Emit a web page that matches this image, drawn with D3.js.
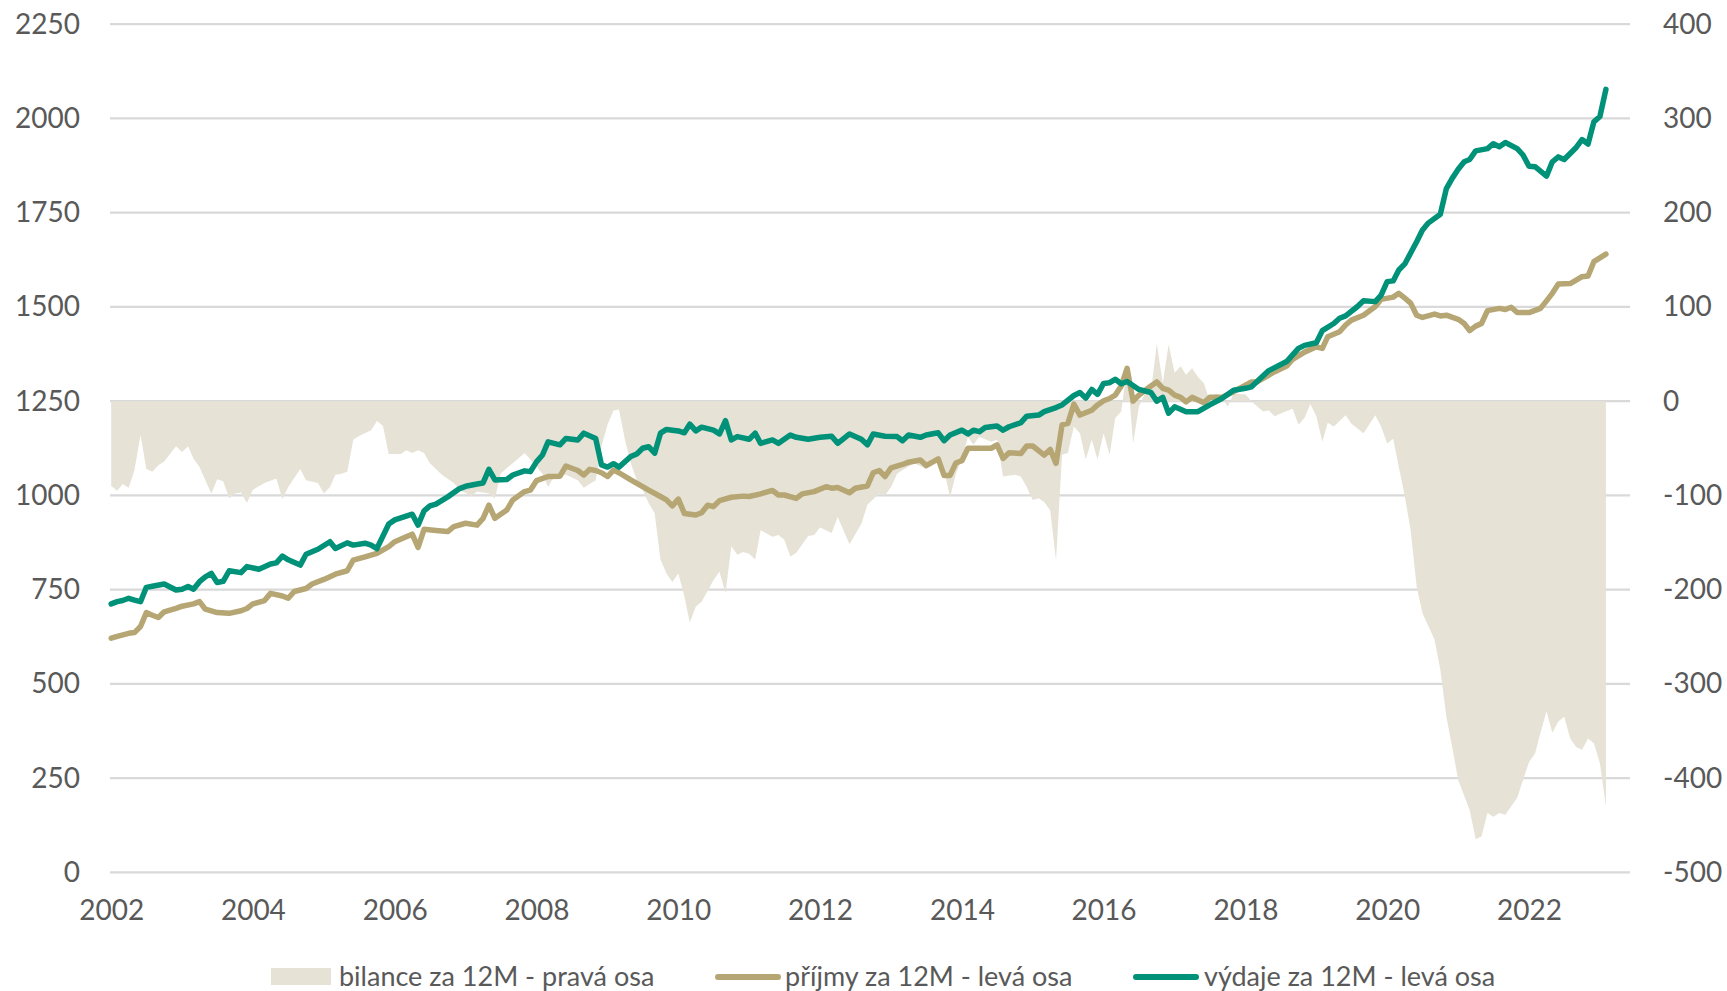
<!DOCTYPE html>
<html>
<head>
<meta charset="utf-8">
<script src="https://cdn.jsdelivr.net/npm/d3@7"></script>
<style>
  body { margin: 0; background: #fff; }
  svg text { font-family: Lato, "Open Sans", sans-serif; fill: #595959; }
</style>
</head>
<body>
<div id="chart"></div>
<script>
"use strict";

// bilance za 12M (right axis), [month, value]
var bilance = [
  ["2002-01",-90],["2002-02",-95],["2002-03",-88],["2002-04",-92],["2002-05",-73],["2002-06",-36],
  ["2002-07",-72],["2002-08",-75],["2002-09",-68],["2002-10",-64],["2002-12",-48],["2003-01",-54],
  ["2003-02",-48],["2003-03",-61],["2003-04",-70],["2003-05",-84],["2003-06",-98],["2003-07",-83],
  ["2003-08",-85],["2003-09",-103],["2003-10",-98],["2003-11",-97],["2003-12",-108],["2004-01",-94],
  ["2004-03",-87],["2004-05",-82],["2004-06",-104],["2004-07",-91],["2004-09",-72],["2004-10",-84],
  ["2004-12",-87],["2005-01",-98],["2005-02",-91],["2005-03",-78],["2005-04",-77],["2005-05",-75],
  ["2005-06",-41],["2005-07",-37],["2005-09",-31],["2005-10",-21],["2005-11",-26],["2005-12",-56],
  ["2006-02",-56],["2006-03",-52],["2006-04",-55],["2006-05",-52],["2006-06",-55],["2006-07",-66],
  ["2006-09",-78],["2006-11",-87],["2006-12",-94],["2007-02",-101],["2007-03",-96],["2007-05",-98],
  ["2007-06",-103],["2007-07",-77],["2007-08",-71],["2007-09",-66],["2007-11",-55],["2007-12",-62],
  ["2008-02",-77],["2008-03",-91],["2008-04",-80],["2008-06",-78],["2008-08",-84],["2008-09",-92],
  ["2008-11",-84],["2008-12",-48],["2009-01",-25],["2009-02",-10],["2009-03",-9],["2009-04",-41],
  ["2009-05",-66],["2009-06",-84],["2009-07",-94],["2009-08",-108],["2009-09",-119],["2009-10",-168],
  ["2009-11",-183],["2009-12",-192],["2010-01",-183],["2010-02",-207],["2010-03",-235],["2010-04",-218],
  ["2010-05",-213],["2010-07",-190],["2010-08",-181],["2010-09",-204],["2010-10",-154],["2010-11",-163],
  ["2010-12",-160],["2011-01",-162],["2011-02",-168],["2011-03",-137],["2011-05",-144],["2011-06",-142],
  ["2011-07",-147],["2011-08",-165],["2011-09",-161],["2011-11",-143],["2011-12",-142],["2012-01",-134],
  ["2012-03",-140],["2012-04",-123],["2012-06",-152],["2012-08",-130],["2012-09",-110],["2012-11",-98],
  ["2012-12",-100],["2013-01",-91],["2013-02",-77],["2013-03",-73],["2013-05",-66],["2013-07",-72],
  ["2013-08",-61],["2013-10",-73],["2013-11",-102],["2013-12",-77],["2014-01",-61],["2014-02",-38],
  ["2014-03",-46],["2014-04",-38],["2014-06",-43],["2014-07",-41],["2014-08",-80],["2014-10",-78],
  ["2014-11",-80],["2014-12",-91],["2015-01",-105],["2015-02",-103],["2015-03",-107],["2015-04",-116],
  ["2015-05",-169],["2015-06",-57],["2015-07",-55],["2015-08",-27],["2015-09",-34],["2015-10",-62],
  ["2015-11",-41],["2015-12",-62],["2016-01",-34],["2016-02",-57],["2016-03",-18],["2016-04",-11],
  ["2016-05",37],["2016-06",-45],["2016-07",-6],["2016-08",8],["2016-09",10],["2016-10",61],
  ["2016-11",19],["2016-12",60],["2017-01",30],["2017-02",37],["2017-03",28],["2017-04",35],
  ["2017-05",26],["2017-06",19],["2017-07",0],["2017-08",8],["2017-09",5],["2017-10",-6],
  ["2017-11",8],["2018-01",7],["2018-02",0],["2018-04",-11],["2018-05",-10],["2018-06",-16],
  ["2018-07",-13],["2018-09",-8],["2018-10",-25],["2018-11",-18],["2018-12",-3],["2019-01",-16],
  ["2019-02",-43],["2019-03",-23],["2019-04",-27],["2019-06",-15],["2019-07",-24],["2019-09",-34],
  ["2019-11",-15],["2019-12",-27],["2020-01",-45],["2020-02",-40],["2020-03",-70],["2020-04",-101],
  ["2020-05",-137],["2020-06",-197],["2020-07",-225],["2020-09",-253],["2020-10",-285],["2020-11",-335],
  ["2020-12",-367],["2021-01",-402],["2021-03",-434],["2021-04",-465],["2021-05",-462],["2021-06",-437],
  ["2021-07",-441],["2021-08",-437],["2021-09",-439],["2021-10",-430],["2021-11",-421],["2021-12",-402],
  ["2022-01",-383],["2022-02",-374],["2022-03",-352],["2022-04",-329],["2022-05",-352],["2022-06",-340],
  ["2022-07",-335],["2022-08",-358],["2022-09",-367],["2022-10",-370],["2022-11",-358],["2022-12",-363],
  ["2023-01",-384],["2023-02",-430]
];

// příjmy za 12M (left axis)
var prijmy = [
  ["2002-01",621],["2002-02",626],["2002-04",634],["2002-05",636],["2002-06",652],["2002-07",689],
  ["2002-08",682],["2002-09",676],["2002-10",691],["2002-12",700],["2003-01",706],["2003-03",712],
  ["2003-04",718],["2003-05",698],["2003-07",689],["2003-09",687],["2003-11",694],["2003-12",700],
  ["2004-01",712],["2004-03",721],["2004-04",740],["2004-06",733],["2004-07",727],["2004-08",745],
  ["2004-10",753],["2004-11",765],["2005-01",777],["2005-03",791],["2005-05",800],["2005-06",828],
  ["2005-08",837],["2005-10",846],["2005-12",864],["2006-01",877],["2006-03",890],["2006-04",897],
  ["2006-05",862],["2006-06",910],["2006-08",907],["2006-10",904],["2006-11",917],["2007-01",926],
  ["2007-03",921],["2007-04",939],["2007-05",974],["2007-06",939],["2007-08",961],["2007-09",988],
  ["2007-11",1010],["2007-12",1014],["2008-01",1039],["2008-03",1050],["2008-05",1051],["2008-06",1078],
  ["2008-08",1066],["2008-09",1054],["2008-10",1069],["2008-11",1066],["2008-12",1060],["2009-01",1050],
  ["2009-02",1067],["2009-03",1060],["2009-05",1041],["2009-07",1023],["2009-08",1014],["2009-10",997],
  ["2009-11",988],["2009-12",972],["2010-01",990],["2010-02",952],["2010-04",948],["2010-05",954],
  ["2010-06",974],["2010-07",970],["2010-08",986],["2010-10",995],["2010-12",998],["2011-01",997],
  ["2011-03",1004],["2011-05",1013],["2011-06",1001],["2011-07",1001],["2011-09",992],["2011-10",1004],
  ["2011-12",1010],["2012-02",1023],["2012-03",1019],["2012-04",1021],["2012-06",1007],["2012-07",1019],
  ["2012-09",1025],["2012-10",1060],["2012-11",1066],["2012-12",1050],["2013-01",1073],["2013-03",1082],
  ["2013-04",1088],["2013-06",1094],["2013-07",1079],["2013-09",1097],["2013-10",1053],["2013-11",1053],
  ["2013-12",1086],["2014-01",1092],["2014-02",1125],["2014-04",1125],["2014-06",1125],["2014-07",1134],
  ["2014-08",1098],["2014-09",1113],["2014-11",1111],["2014-12",1131],["2015-01",1131],["2015-03",1107],
  ["2015-04",1122],["2015-05",1085],["2015-06",1187],["2015-07",1191],["2015-08",1242],["2015-09",1213],
  ["2015-11",1226],["2015-12",1240],["2016-01",1251],["2016-02",1257],["2016-03",1266],["2016-04",1290],
  ["2016-05",1337],["2016-06",1250],["2016-07",1266],["2016-09",1290],["2016-10",1301],["2016-11",1284],
  ["2016-12",1279],["2017-01",1266],["2017-02",1260],["2017-03",1248],["2017-04",1260],["2017-06",1246],
  ["2017-07",1260],["2017-09",1260],["2017-11",1275],["2018-02",1301],["2018-03",1301],["2018-06",1328],
  ["2018-08",1343],["2018-09",1361],["2018-11",1380],["2019-01",1394],["2019-02",1390],["2019-03",1421],
  ["2019-05",1434],["2019-06",1452],["2019-07",1465],["2019-09",1478],["2019-11",1501],["2019-12",1520],
  ["2020-02",1526],["2020-03",1536],["2020-04",1523],["2020-05",1510],["2020-06",1478],["2020-07",1472],
  ["2020-09",1481],["2020-10",1476],["2020-11",1478],["2021-01",1467],["2021-02",1456],["2021-03",1437],
  ["2021-04",1449],["2021-05",1456],["2021-06",1490],["2021-08",1496],["2021-09",1493],["2021-10",1499],
  ["2021-11",1485],["2022-01",1485],["2022-03",1496],["2022-04",1516],["2022-05",1536],["2022-06",1561],
  ["2022-08",1562],["2022-09",1571],["2022-10",1580],["2022-11",1582],["2022-12",1620],["2023-02",1640]
];

// výdaje za 12M (left axis)
var vydaje = [
  ["2002-01",712],["2002-02",718],["2002-03",721],["2002-04",727],["2002-05",722],["2002-06",718],
  ["2002-07",756],["2002-08",759],["2002-10",765],["2002-12",749],["2003-01",751],["2003-02",758],
  ["2003-03",751],["2003-04",771],["2003-05",784],["2003-06",793],["2003-07",769],["2003-08",772],
  ["2003-09",800],["2003-11",795],["2003-12",811],["2004-02",804],["2004-04",818],["2004-05",821],
  ["2004-06",839],["2004-07",829],["2004-09",815],["2004-10",844],["2004-12",857],["2005-02",877],
  ["2005-03",859],["2005-05",874],["2005-06",868],["2005-08",873],["2005-09",868],["2005-10",859],
  ["2005-12",924],["2006-01",935],["2006-03",945],["2006-04",950],["2006-05",921],["2006-06",959],
  ["2006-07",972],["2006-08",977],["2006-10",996],["2006-12",1018],["2007-01",1024],["2007-03",1030],
  ["2007-04",1033],["2007-05",1069],["2007-06",1041],["2007-08",1042],["2007-09",1054],["2007-11",1065],
  ["2007-12",1063],["2008-01",1089],["2008-02",1107],["2008-03",1142],["2008-05",1134],["2008-06",1151],
  ["2008-08",1147],["2008-09",1165],["2008-11",1151],["2008-12",1081],["2009-01",1075],["2009-02",1084],
  ["2009-03",1075],["2009-05",1103],["2009-06",1110],["2009-07",1125],["2009-08",1129],["2009-09",1112],
  ["2009-10",1165],["2009-11",1175],["2010-01",1171],["2010-02",1166],["2010-03",1189],["2010-04",1171],
  ["2010-05",1181],["2010-07",1173],["2010-08",1163],["2010-09",1198],["2010-10",1147],["2010-11",1156],
  ["2011-01",1149],["2011-02",1165],["2011-03",1138],["2011-05",1147],["2011-06",1138],["2011-08",1160],
  ["2011-09",1154],["2011-11",1149],["2012-01",1154],["2012-03",1157],["2012-04",1138],["2012-06",1163],
  ["2012-08",1149],["2012-09",1134],["2012-10",1163],["2012-12",1157],["2013-02",1156],["2013-03",1145],
  ["2013-04",1160],["2013-06",1154],["2013-07",1160],["2013-09",1166],["2013-10",1145],["2013-11",1160],
  ["2014-01",1173],["2014-02",1163],["2014-03",1173],["2014-04",1169],["2014-05",1180],["2014-07",1184],
  ["2014-08",1173],["2014-09",1182],["2014-11",1193],["2014-12",1210],["2015-02",1213],["2015-03",1222],
  ["2015-05",1233],["2015-06",1240],["2015-08",1265],["2015-09",1273],["2015-10",1258],["2015-11",1281],
  ["2015-12",1268],["2016-01",1297],["2016-02",1299],["2016-03",1308],["2016-04",1296],["2016-05",1302],
  ["2016-07",1281],["2016-09",1273],["2016-10",1250],["2016-11",1260],["2016-12",1218],["2017-01",1235],
  ["2017-03",1222],["2017-05",1222],["2017-07",1240],["2017-09",1257],["2017-11",1279],["2018-01",1284],
  ["2018-02",1288],["2018-05",1331],["2018-08",1355],["2018-10",1390],["2018-11",1398],["2019-01",1405],
  ["2019-02",1437],["2019-04",1456],["2019-05",1470],["2019-06",1476],["2019-08",1501],["2019-09",1516],
  ["2019-11",1514],["2019-12",1531],["2020-01",1567],["2020-02",1569],["2020-03",1598],["2020-04",1614],
  ["2020-06",1673],["2020-07",1704],["2020-08",1723],["2020-10",1746],["2020-11",1814],["2020-12",1841],
  ["2021-01",1865],["2021-02",1885],["2021-03",1891],["2021-04",1914],["2021-06",1920],["2021-07",1933],
  ["2021-08",1925],["2021-09",1936],["2021-11",1920],["2021-12",1903],["2022-01",1873],["2022-02",1872],
  ["2022-04",1847],["2022-05",1885],["2022-06",1898],["2022-07",1891],["2022-09",1923],["2022-10",1944],
  ["2022-11",1932],["2022-12",1991],["2023-01",2005],["2023-02",2077]
];

var leftTicks = [0, 250, 500, 750, 1000, 1250, 1500, 1750, 2000, 2250];
var rightTicks = [-500, -400, -300, -200, -100, 0, 100, 200, 300, 400];
var yearTicks = ["2002", "2004", "2006", "2008", "2010", "2012", "2014", "2016", "2018", "2020", "2022"];
var legendNames = ["bilance za 12M - pravá osa", "příjmy za 12M - levá osa", "výdaje za 12M - levá osa"];

var colFill = "#e6e2d6";
var colGold = "#b6a674";
var colTeal = "#009179";

var width = 1727;
var height = 991;
var parseMonth = d3.timeParse("%Y-%m");
var parseYear = d3.timeParse("%Y");

var svg = d3.select("#chart")
  .append("svg")
    .attr("width", width)
    .attr("height", height);

var x = d3.scaleTime()
  .domain([parseMonth("2002-01"), parseMonth("2023-02")])
  .range([111.2, 1605.9]);

var yLeft = d3.scaleLinear()
  .domain([0, 2250])
  .range([872.3, 24.2]);

var yRight = d3.scaleLinear()
  .domain([-500, 400])
  .range([872.3, 24.2]);

// gridlines
svg.append("g")
  .selectAll("line")
  .data(leftTicks)
  .enter()
  .append("line")
    .attr("x1", 110)
    .attr("x2", 1630)
    .attr("y1", d => yLeft(d))
    .attr("y2", d => yLeft(d))
    .attr("stroke", "#d9d9d9")
    .attr("stroke-width", 2.2);

// left axis
var axL = svg.append("g")
  .attr("transform", "translate(80,0)")
  .call(d3.axisLeft(yLeft).tickValues(leftTicks).tickSize(0).tickPadding(0)
    .tickFormat(d3.format("d")));
axL.select(".domain").remove();
axL.selectAll("text").style("font-size", "28px").attr("fill", "#595959");

// right axis
var axR = svg.append("g")
  .attr("transform", "translate(1663,0)")
  .call(d3.axisRight(yRight).tickValues(rightTicks).tickSize(0).tickPadding(0)
    .tickFormat(d => d < 0 ? "-" + Math.abs(d) : d));
axR.select(".domain").remove();
axR.selectAll("text").style("font-size", "28px").attr("fill", "#595959");

// bottom axis
var axB = svg.append("g")
  .attr("transform", "translate(0,900)")
  .call(d3.axisBottom(x).tickValues(yearTicks.map(parseYear)).tickSize(0).tickPadding(0)
    .tickFormat(d3.timeFormat("%Y")));
axB.select(".domain").remove();
axB.selectAll("text").style("font-size", "28px").attr("fill", "#595959");

// bilance area
var area = d3.area()
  .x(d => x(parseMonth(d[0])))
  .y0(yRight(0))
  .y1(d => yRight(d[1]));
svg.append("path")
  .datum(bilance)
  .attr("d", area)
  .attr("fill", colFill);

var lineL = d3.line()
  .x(d => x(parseMonth(d[0])))
  .y(d => yLeft(d[1]));

svg.append("path")
  .datum(prijmy)
  .attr("d", lineL)
  .attr("fill", "none")
  .attr("stroke", colGold)
  .attr("stroke-width", 5.5)
  .attr("stroke-linejoin", "round")
  .attr("stroke-linecap", "round");

svg.append("path")
  .datum(vydaje)
  .attr("d", lineL)
  .attr("fill", "none")
  .attr("stroke", colTeal)
  .attr("stroke-width", 5.5)
  .attr("stroke-linejoin", "round")
  .attr("stroke-linecap", "round");

// legend
var legY = 977;
var leg = svg.append("g");
leg.append("rect")
  .attr("x", 271).attr("y", legY - 9)
  .attr("width", 60).attr("height", 17)
  .attr("fill", colFill);
leg.append("line")
  .attr("x1", 718).attr("x2", 778)
  .attr("y1", legY).attr("y2", legY)
  .attr("stroke", colGold).attr("stroke-width", 6).attr("stroke-linecap", "round");
leg.append("line")
  .attr("x1", 1136).attr("x2", 1196)
  .attr("y1", legY).attr("y2", legY)
  .attr("stroke", colTeal).attr("stroke-width", 6).attr("stroke-linecap", "round");

leg.selectAll("text")
  .data(legendNames)
  .enter()
  .append("text")
    .attr("x", (d, i) => [339, 785, 1204][i])
    .attr("y", legY)
    .attr("dy", "0.35em")
    .style("font-size", "27px")
    .text(d => d);
</script>
</body>
</html>
